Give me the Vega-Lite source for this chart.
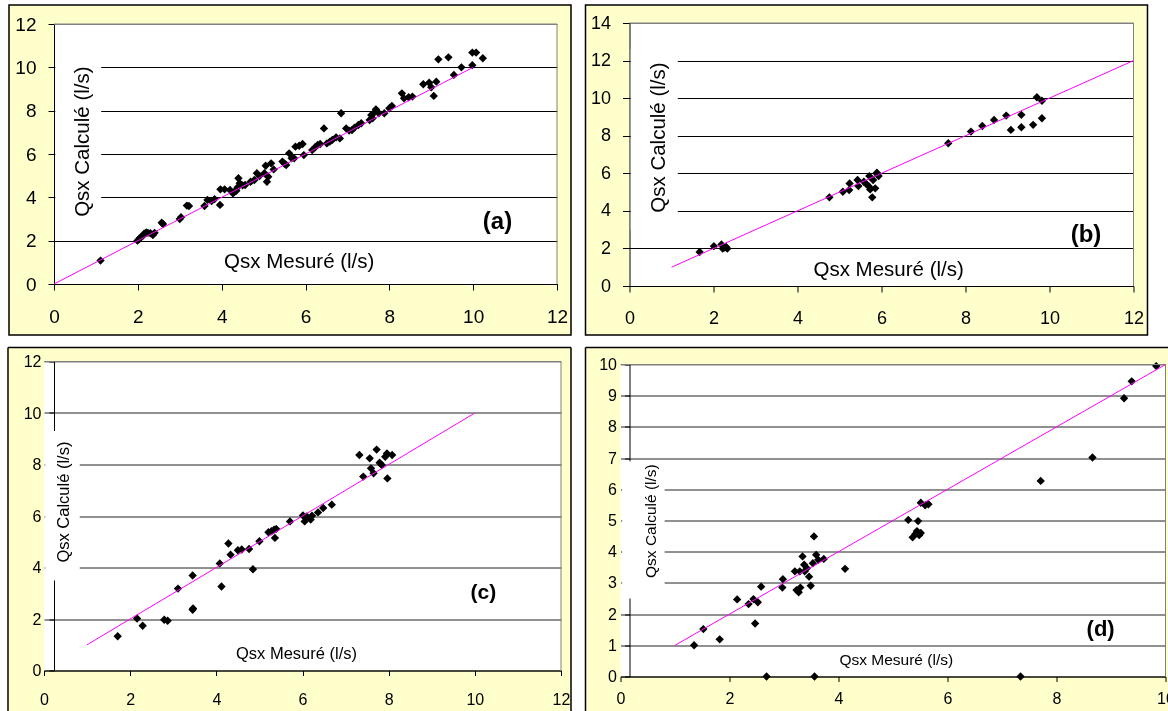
{
"$schema": "https://vega.github.io/schema/vega-lite/v6.json",
"background": "white",
"padding": {"left": 7, "top": 4, "right": 0, "bottom": 0},
"config": {
  "font": "Liberation Sans",
  "view": {"stroke": null},
  "axis": {"labelFont": "Liberation Sans", "labelColor": "black", "domainColor": "black", "tickColor": "black", "domainWidth": 1, "tickWidth": 1, "gridWidth": 1, "labelFlush": false, "labelOverlap": false, "labelBound": false, "tickCount": 20, "format": "d"}
},
"datasets": {
  "a": [
    {"mesure":1.11,"calcule":1.08},{"mesure":1.99,"calcule":2.0},{"mesure":2.03,"calcule":2.06},{"mesure":2.06,"calcule":2.15},{"mesure":2.12,"calcule":2.22},{"mesure":2.15,"calcule":2.32},{"mesure":2.2,"calcule":2.38},{"mesure":2.24,"calcule":2.36},{"mesure":2.3,"calcule":2.34},{"mesure":2.36,"calcule":2.26},{"mesure":2.4,"calcule":2.36},{"mesure":2.57,"calcule":2.83},{"mesure":2.6,"calcule":2.77},{"mesure":3.0,"calcule":3.0},{"mesure":3.03,"calcule":3.08},{"mesure":3.17,"calcule":3.62},{"mesure":3.22,"calcule":3.6},{"mesure":3.59,"calcule":3.6},{"mesure":3.66,"calcule":3.88},{"mesure":3.76,"calcule":3.83},{"mesure":3.83,"calcule":3.92},{"mesure":3.96,"calcule":3.65},{"mesure":3.97,"calcule":4.37},{"mesure":4.07,"calcule":4.37},{"mesure":4.2,"calcule":4.34},{"mesure":4.27,"calcule":4.18},{"mesure":4.3,"calcule":4.26},{"mesure":4.35,"calcule":4.3},{"mesure":4.38,"calcule":4.46},{"mesure":4.4,"calcule":4.88},{"mesure":4.43,"calcule":4.65},{"mesure":4.5,"calcule":4.55},{"mesure":4.56,"calcule":4.57},{"mesure":4.69,"calcule":4.72},{"mesure":4.78,"calcule":4.8},{"mesure":4.84,"calcule":5.11},{"mesure":4.9,"calcule":4.98},{"mesure":5.02,"calcule":5.11},{"mesure":5.05,"calcule":5.46},{"mesure":5.08,"calcule":4.72},{"mesure":5.11,"calcule":4.95},{"mesure":5.18,"calcule":5.57},{"mesure":5.24,"calcule":5.29},{"mesure":5.45,"calcule":5.65},{"mesure":5.5,"calcule":5.55},{"mesure":5.54,"calcule":5.49},{"mesure":5.61,"calcule":6.03},{"mesure":5.67,"calcule":5.8},{"mesure":5.73,"calcule":5.8},{"mesure":5.76,"calcule":6.34},{"mesure":5.85,"calcule":6.38},{"mesure":5.93,"calcule":6.46},{"mesure":5.96,"calcule":5.95},{"mesure":6.16,"calcule":6.18},{"mesure":6.23,"calcule":6.31},{"mesure":6.29,"calcule":6.42},{"mesure":6.35,"calcule":6.46},{"mesure":6.44,"calcule":7.18},{"mesure":6.51,"calcule":6.49},{"mesure":6.58,"calcule":6.57},{"mesure":6.64,"calcule":6.65},{"mesure":6.73,"calcule":6.77},{"mesure":6.82,"calcule":6.72},{"mesure":6.85,"calcule":7.88},{"mesure":6.97,"calcule":7.18},{"mesure":7.04,"calcule":7.08},{"mesure":7.11,"calcule":7.11},{"mesure":7.17,"calcule":7.22},{"mesure":7.26,"calcule":7.34},{"mesure":7.33,"calcule":7.42},{"mesure":7.53,"calcule":7.57},{"mesure":7.57,"calcule":7.8},{"mesure":7.6,"calcule":7.65},{"mesure":7.64,"calcule":7.91},{"mesure":7.68,"calcule":8.06},{"mesure":7.75,"calcule":7.88},{"mesure":7.88,"calcule":7.88},{"mesure":8.0,"calcule":8.11},{"mesure":8.06,"calcule":8.22},{"mesure":8.3,"calcule":8.8},{"mesure":8.35,"calcule":8.57},{"mesure":8.46,"calcule":8.62},{"mesure":8.55,"calcule":8.65},{"mesure":8.81,"calcule":9.22},{"mesure":8.95,"calcule":9.29},{"mesure":9.0,"calcule":9.08},{"mesure":9.06,"calcule":8.68},{"mesure":9.12,"calcule":9.34},{"mesure":9.17,"calcule":10.37},{"mesure":9.41,"calcule":10.46},{"mesure":9.54,"calcule":9.65},{"mesure":9.72,"calcule":10.0},{"mesure":9.98,"calcule":10.1},{"mesure":9.98,"calcule":10.68},{"mesure":10.07,"calcule":10.68},{"mesure":10.23,"calcule":10.42}
  ],
  "b": [
    {"mesure":1.67,"calcule":1.81},{"mesure":2.01,"calcule":2.12},{"mesure":2.19,"calcule":2.21},{"mesure":2.22,"calcule":1.99},{"mesure":2.3,"calcule":2.08},{"mesure":2.33,"calcule":1.99},{"mesure":2.27,"calcule":2.05},{"mesure":4.76,"calcule":4.72},{"mesure":5.08,"calcule":5.02},{"mesure":5.23,"calcule":5.11},{"mesure":5.24,"calcule":5.46},{"mesure":5.43,"calcule":5.64},{"mesure":5.45,"calcule":5.32},{"mesure":5.58,"calcule":5.55},{"mesure":5.64,"calcule":5.43},{"mesure":5.7,"calcule":5.3},{"mesure":5.71,"calcule":5.85},{"mesure":5.73,"calcule":5.14},{"mesure":5.78,"calcule":4.72},{"mesure":5.8,"calcule":5.64},{"mesure":5.85,"calcule":5.2},{"mesure":5.89,"calcule":6.03},{"mesure":5.93,"calcule":5.85},{"mesure":5.9,"calcule":5.95},{"mesure":7.59,"calcule":7.6},{"mesure":8.13,"calcule":8.22},{"mesure":8.4,"calcule":8.52},{"mesure":8.68,"calcule":8.84},{"mesure":8.97,"calcule":9.07},{"mesure":9.08,"calcule":8.31},{"mesure":9.33,"calcule":9.11},{"mesure":9.33,"calcule":8.45},{"mesure":9.61,"calcule":8.58},{"mesure":9.7,"calcule":10.05},{"mesure":9.82,"calcule":8.93},{"mesure":9.82,"calcule":9.86}
  ],
  "c": [
    {"mesure":1.71,"calcule":1.33},{"mesure":2.16,"calcule":2.02},{"mesure":2.29,"calcule":1.74},{"mesure":2.79,"calcule":1.97},{"mesure":2.87,"calcule":1.93},{"mesure":3.11,"calcule":3.18},{"mesure":3.45,"calcule":3.69},{"mesure":3.46,"calcule":2.41},{"mesure":3.45,"calcule":2.36},{"mesure":4.08,"calcule":4.16},{"mesure":4.12,"calcule":3.26},{"mesure":4.28,"calcule":4.93},{"mesure":4.33,"calcule":4.5},{"mesure":4.5,"calcule":4.67},{"mesure":4.59,"calcule":4.7},{"mesure":4.76,"calcule":4.72},{"mesure":4.85,"calcule":3.93},{"mesure":5.0,"calcule":5.02},{"mesure":5.21,"calcule":5.37},{"mesure":5.28,"calcule":5.41},{"mesure":5.34,"calcule":5.47},{"mesure":5.36,"calcule":5.15},{"mesure":5.39,"calcule":5.5},{"mesure":5.71,"calcule":5.79},{"mesure":6.01,"calcule":6.02},{"mesure":6.05,"calcule":5.79},{"mesure":6.1,"calcule":5.98},{"mesure":6.19,"calcule":5.86},{"mesure":6.22,"calcule":6.01},{"mesure":6.36,"calcule":6.14},{"mesure":6.48,"calcule":6.31},{"mesure":6.68,"calcule":6.44},{"mesure":7.32,"calcule":8.37},{"mesure":7.41,"calcule":7.53},{"mesure":7.56,"calcule":8.24},{"mesure":7.59,"calcule":7.85},{"mesure":7.65,"calcule":7.66},{"mesure":7.72,"calcule":8.58},{"mesure":7.79,"calcule":8.07},{"mesure":7.84,"calcule":7.98},{"mesure":7.92,"calcule":8.3},{"mesure":7.96,"calcule":8.43},{"mesure":7.97,"calcule":7.46},{"mesure":8.08,"calcule":8.37}
  ],
  "d": [
    {"mesure":1.35,"calcule":1.0},{"mesure":1.52,"calcule":1.52},{"mesure":1.82,"calcule":1.19},{"mesure":2.14,"calcule":2.47},{"mesure":2.35,"calcule":2.32},{"mesure":2.44,"calcule":2.48},{"mesure":2.47,"calcule":1.7},{"mesure":2.52,"calcule":2.38},{"mesure":2.58,"calcule":2.88},{"mesure":2.68,"calcule":0.0},{"mesure":2.98,"calcule":3.12},{"mesure":2.97,"calcule":2.85},{"mesure":3.2,"calcule":3.37},{"mesure":3.23,"calcule":2.77},{"mesure":3.27,"calcule":2.7},{"mesure":3.3,"calcule":2.85},{"mesure":3.29,"calcule":3.37},{"mesure":3.34,"calcule":3.85},{"mesure":3.37,"calcule":3.58},{"mesure":3.38,"calcule":3.37},{"mesure":3.42,"calcule":3.47},{"mesure":3.46,"calcule":3.2},{"mesure":3.49,"calcule":2.91},{"mesure":3.55,"calcule":4.49},{"mesure":3.56,"calcule":0.0},{"mesure":3.53,"calcule":3.63},{"mesure":3.59,"calcule":3.9},{"mesure":3.63,"calcule":3.74},{"mesure":3.73,"calcule":3.77},{"mesure":4.12,"calcule":3.45},{"mesure":5.28,"calcule":5.02},{"mesure":5.36,"calcule":4.46},{"mesure":5.41,"calcule":4.57},{"mesure":5.46,"calcule":4.98},{"mesure":5.44,"calcule":4.66},{"mesure":5.48,"calcule":4.53},{"mesure":5.51,"calcule":4.6},{"mesure":5.51,"calcule":5.57},{"mesure":5.59,"calcule":5.49},{"mesure":5.65,"calcule":5.52},{"mesure":7.34,"calcule":0.0},{"mesure":7.71,"calcule":6.27},{"mesure":8.66,"calcule":7.02},{"mesure":9.24,"calcule":8.92},{"mesure":9.38,"calcule":9.46},{"mesure":9.83,"calcule":9.95}
  ],
  "la": [{"mesure":0,"calcule":0},{"mesure":10,"calcule":10}],
  "lb": [{"mesure":1,"calcule":1},{"mesure":12,"calcule":12}],
  "lc": [{"mesure":1,"calcule":1},{"mesure":10,"calcule":10}],
  "ld": [{"mesure":1,"calcule":1},{"mesure":10,"calcule":10}],
  "one": [{"k":1}]
},
"columns": 2,
"spacing": {"row": 10.5, "column": 12.5},
"concat": [
  {"width": 503, "height": 260, "layer": [
    {"data": {"name": "a"}, "mark": {"type": "point", "shape": "diamond", "filled": true, "color": "black", "size": 70, "opacity": 1},
     "encoding": {
       "x": {"field": "mesure", "type": "quantitative", "scale": {"domain": [0, 12], "nice": false}, "axis": {"title": null, "values": [0,2,4,6,8,10,12], "tickCount": 20, "format": "d", "grid": false, "labelFontSize": 19, "tickSize": 6, "labelPadding": 17}},
       "y": {"field": "calcule", "type": "quantitative", "scale": {"domain": [0, 12], "nice": false}, "axis": {"title": null, "values": [0,2,4,6,8,10,12], "tickCount": 20, "format": "d", "grid": true, "gridColor": {"condition": {"test": "datum.value >= 12", "value": "#808080"}, "value": "black"}, "labelFontSize": 19, "tickSize": 6, "labelPadding": 12}}
     }},
    {"data": {"name": "one"}, "mark": {"type": "rect", "fill": "#FFFFCC", "blend": "multiply"}, "encoding": {"x": {"datum": -1.0736, "type": "quantitative"}, "x2": {"datum": 0}, "y": {"datum": -2.354, "type": "quantitative"}, "y2": {"datum": 12.877}}},
    {"data": {"name": "one"}, "mark": {"type": "rect", "fill": "#FFFFCC", "blend": "multiply"}, "encoding": {"x": {"datum": 12, "type": "quantitative"}, "x2": {"datum": 12.334}, "y": {"datum": -2.354, "type": "quantitative"}, "y2": {"datum": 12.877}}},
    {"data": {"name": "one"}, "mark": {"type": "rect", "fill": "#FFFFCC", "blend": "multiply"}, "encoding": {"x": {"datum": 0, "type": "quantitative"}, "x2": {"datum": 12}, "y": {"datum": 12, "type": "quantitative"}, "y2": {"datum": 12.877}}},
    {"data": {"name": "one"}, "mark": {"type": "rect", "fill": "#FFFFCC", "blend": "multiply"}, "encoding": {"x": {"datum": 0, "type": "quantitative"}, "x2": {"datum": 12}, "y": {"datum": -2.354, "type": "quantitative"}, "y2": {"datum": 0}}},
    {"data": {"name": "one"}, "mark": {"type": "rect", "filled": false, "stroke": "black", "strokeWidth": 1.5}, "encoding": {"x": {"datum": -1.0736, "type": "quantitative"}, "x2": {"datum": 12.334}, "y": {"datum": -2.354, "type": "quantitative"}, "y2": {"datum": 12.877}}},
    {"data": {"name": "one"}, "mark": {"type": "rule", "stroke": "#808080", "strokeWidth": 1}, "encoding": {"x": {"datum": 0, "type": "quantitative"}, "x2": {"datum": 12}, "y": {"datum": 12, "type": "quantitative"}}},
    {"data": {"name": "one"}, "mark": {"type": "rule", "stroke": "#808080", "strokeWidth": 1}, "encoding": {"x": {"datum": 12, "type": "quantitative"}, "y": {"datum": 0, "type": "quantitative"}, "y2": {"datum": 12}}},
    {"data": {"name": "one"}, "mark": {"type": "rect", "fill": "white"}, "encoding": {"x": {"datum": 0.03, "type": "quantitative"}, "x2": {"datum": 1.125}, "y": {"datum": 2.6, "type": "quantitative"}, "y2": {"datum": 10.4}}},
    {"data": {"name": "la"}, "mark": {"type": "line", "color": "#FF00FF", "strokeWidth": 1}, "encoding": {"x": {"field": "mesure", "type": "quantitative"}, "y": {"field": "calcule", "type": "quantitative"}}},
    {"data": {"name": "one"}, "mark": {"type": "text", "text": "Qsx Calculé (l/s)", "angle": 270, "fontSize": 20.5, "font": "Liberation Sans", "align": "center", "baseline": "middle", "color": "black"}, "encoding": {"x": {"datum": 0.68, "type": "quantitative"}, "y": {"datum": 6.57, "type": "quantitative"}}},
    {"data": {"name": "one"}, "mark": {"type": "text", "text": "Qsx Mesuré (l/s)", "fontSize": 20.5, "font": "Liberation Sans", "align": "center", "baseline": "middle", "color": "black"}, "encoding": {"x": {"datum": 5.85, "type": "quantitative"}, "y": {"datum": 1.03, "type": "quantitative"}}},
    {"data": {"name": "one"}, "mark": {"type": "text", "text": "(a)", "fontSize": 24, "fontWeight": "bold", "font": "Liberation Sans", "align": "center", "baseline": "middle", "color": "black"}, "encoding": {"x": {"datum": 10.58, "type": "quantitative"}, "y": {"datum": 2.88, "type": "quantitative"}}}
  ]},
  {"width": 504, "height": 262, "layer": [
    {"data": {"name": "b"}, "mark": {"type": "point", "shape": "diamond", "filled": true, "color": "black", "size": 70, "opacity": 1},
     "encoding": {
       "x": {"field": "mesure", "type": "quantitative", "scale": {"domain": [0, 12], "nice": false}, "axis": {"title": null, "values": [0,2,4,6,8,10,12], "tickCount": 20, "format": "d", "grid": false, "labelFontSize": 18, "tickSize": 6, "labelPadding": 17}},
       "y": {"field": "calcule", "type": "quantitative", "scale": {"domain": [0, 14], "nice": false, "range": [262, -1]}, "axis": {"title": null, "values": [0,2,4,6,8,10,12,14], "tickCount": 20, "format": "d", "grid": true, "gridColor": {"condition": {"test": "datum.value >= 14", "value": "#808080"}, "value": "black"}, "labelFontSize": 18, "tickSize": 7, "labelPadding": 12}}
     }},
    {"data": {"name": "one"}, "mark": {"type": "rect", "fill": "#FFFFCC", "blend": "multiply"}, "encoding": {"x": {"datum": -1.0476, "type": "quantitative"}, "x2": {"datum": 0}, "y": {"datum": -2.608, "type": "quantitative"}, "y2": {"datum": 14.958}}},
    {"data": {"name": "one"}, "mark": {"type": "rect", "fill": "#FFFFCC", "blend": "multiply"}, "encoding": {"x": {"datum": 12, "type": "quantitative"}, "x2": {"datum": 12.333}, "y": {"datum": -2.608, "type": "quantitative"}, "y2": {"datum": 14.958}}},
    {"data": {"name": "one"}, "mark": {"type": "rect", "fill": "#FFFFCC", "blend": "multiply"}, "encoding": {"x": {"datum": 0, "type": "quantitative"}, "x2": {"datum": 12}, "y": {"datum": 14, "type": "quantitative"}, "y2": {"datum": 14.958}}},
    {"data": {"name": "one"}, "mark": {"type": "rect", "fill": "#FFFFCC", "blend": "multiply"}, "encoding": {"x": {"datum": 0, "type": "quantitative"}, "x2": {"datum": 12}, "y": {"datum": -2.608, "type": "quantitative"}, "y2": {"datum": 0}}},
    {"data": {"name": "one"}, "mark": {"type": "rect", "filled": false, "stroke": "black", "strokeWidth": 1.5}, "encoding": {"x": {"datum": -1.0476, "type": "quantitative"}, "x2": {"datum": 12.333}, "y": {"datum": -2.608, "type": "quantitative"}, "y2": {"datum": 14.958}}},
    {"data": {"name": "one"}, "mark": {"type": "rule", "stroke": "#808080", "strokeWidth": 1}, "encoding": {"x": {"datum": 0, "type": "quantitative"}, "x2": {"datum": 12}, "y": {"datum": 14, "type": "quantitative"}}},
    {"data": {"name": "one"}, "mark": {"type": "rule", "stroke": "#808080", "strokeWidth": 1}, "encoding": {"x": {"datum": 12, "type": "quantitative"}, "y": {"datum": 0, "type": "quantitative"}, "y2": {"datum": 14}}},
    {"data": {"name": "one"}, "mark": {"type": "rect", "fill": "white"}, "encoding": {"x": {"datum": 0.03, "type": "quantitative"}, "x2": {"datum": 1.15}, "y": {"datum": 3.0, "type": "quantitative"}, "y2": {"datum": 12.6}}},
    {"data": {"name": "lb"}, "mark": {"type": "line", "color": "#FF00FF", "strokeWidth": 1}, "encoding": {"x": {"field": "mesure", "type": "quantitative"}, "y": {"field": "calcule", "type": "quantitative"}}},
    {"data": {"name": "one"}, "mark": {"type": "text", "text": "Qsx Calculé (l/s)", "angle": 270, "fontSize": 20.5, "font": "Liberation Sans", "align": "center", "baseline": "middle", "color": "black"}, "encoding": {"x": {"datum": 0.71, "type": "quantitative"}, "y": {"datum": 7.9, "type": "quantitative"}}},
    {"data": {"name": "one"}, "mark": {"type": "text", "text": "Qsx Mesuré (l/s)", "fontSize": 20.5, "font": "Liberation Sans", "align": "center", "baseline": "middle", "color": "black"}, "encoding": {"x": {"datum": 6.17, "type": "quantitative"}, "y": {"datum": 0.87, "type": "quantitative"}}},
    {"data": {"name": "one"}, "mark": {"type": "text", "text": "(b)", "fontSize": 24, "fontWeight": "bold", "font": "Liberation Sans", "align": "center", "baseline": "middle", "color": "black"}, "encoding": {"x": {"datum": 10.87, "type": "quantitative"}, "y": {"datum": 2.7, "type": "quantitative"}}}
  ]},
  {"width": 507, "height": 306, "layer": [
    {"data": {"name": "c"}, "mark": {"type": "point", "shape": "diamond", "filled": true, "color": "black", "size": 70, "opacity": 1},
     "encoding": {
       "x": {"field": "mesure", "type": "quantitative", "scale": {"domain": [0, 12], "nice": false, "range": [-10, 507]}, "axis": {"title": null, "values": [0,2,4,6,8,10,12], "tickCount": 20, "format": "d", "grid": false, "labelFontSize": 16, "tickSize": 5, "labelPadding": 16}},
       "y": {"field": "calcule", "type": "quantitative", "scale": {"domain": [0, 12], "nice": false, "range": [306, -3]}, "axis": {"title": null, "values": [0,2,4,6,8,10,12], "tickCount": 20, "format": "d", "grid": true, "gridColor": {"condition": {"test": "datum.value >= 12", "value": "#808080"}, "value": "#222222"}, "labelFontSize": 16, "tickSize": 5, "labelPadding": 8}}
     }},
    {"data": {"name": "one"}, "mark": {"type": "rect", "fill": "#FFFFCC", "blend": "multiply"}, "encoding": {"x": {"datum": -0.8356, "type": "quantitative"}, "x2": {"datum": 0}, "y": {"datum": -1.592, "type": "quantitative"}, "y2": {"datum": 12.544}}},
    {"data": {"name": "one"}, "mark": {"type": "rect", "fill": "#FFFFCC", "blend": "multiply"}, "encoding": {"x": {"datum": 12, "type": "quantitative"}, "x2": {"datum": 12.232}, "y": {"datum": -1.592, "type": "quantitative"}, "y2": {"datum": 12.544}}},
    {"data": {"name": "one"}, "mark": {"type": "rect", "fill": "#FFFFCC", "blend": "multiply"}, "encoding": {"x": {"datum": 0, "type": "quantitative"}, "x2": {"datum": 12}, "y": {"datum": 12, "type": "quantitative"}, "y2": {"datum": 12.544}}},
    {"data": {"name": "one"}, "mark": {"type": "rect", "fill": "#FFFFCC", "blend": "multiply"}, "encoding": {"x": {"datum": 0, "type": "quantitative"}, "x2": {"datum": 12}, "y": {"datum": -1.592, "type": "quantitative"}, "y2": {"datum": 0}}},
    {"data": {"name": "one"}, "mark": {"type": "rule", "stroke": "black", "strokeWidth": 1.5}, "encoding": {"x": {"datum": -0.8356, "type": "quantitative"}, "y": {"datum": -1.592, "type": "quantitative"}, "y2": {"datum": 12.544}}},
    {"data": {"name": "one"}, "mark": {"type": "rule", "stroke": "black", "strokeWidth": 1.5}, "encoding": {"x": {"datum": 12.232, "type": "quantitative"}, "y": {"datum": -1.592, "type": "quantitative"}, "y2": {"datum": 12.544}}},
    {"data": {"name": "one"}, "mark": {"type": "rule", "stroke": "black", "strokeWidth": 1.5}, "encoding": {"x": {"datum": -0.8356, "type": "quantitative"}, "x2": {"datum": 12.232}, "y": {"datum": 12.544, "type": "quantitative"}}},
    {"data": {"name": "one"}, "mark": {"type": "rule", "stroke": "#808080", "strokeWidth": 1}, "encoding": {"x": {"datum": 0, "type": "quantitative"}, "x2": {"datum": 12}, "y": {"datum": 12, "type": "quantitative"}}},
    {"data": {"name": "one"}, "mark": {"type": "rule", "stroke": "#808080", "strokeWidth": 1}, "encoding": {"x": {"datum": 12, "type": "quantitative"}, "y": {"datum": 0, "type": "quantitative"}, "y2": {"datum": 12}}},
    {"data": {"name": "one"}, "mark": {"type": "rect", "fill": "white"}, "encoding": {"x": {"datum": 0.03, "type": "quantitative"}, "x2": {"datum": 0.83}, "y": {"datum": 3.5, "type": "quantitative"}, "y2": {"datum": 9.3}}},
    {"data": {"name": "lc"}, "mark": {"type": "line", "color": "#FF00FF", "strokeWidth": 1}, "encoding": {"x": {"field": "mesure", "type": "quantitative"}, "y": {"field": "calcule", "type": "quantitative"}}},
    {"data": {"name": "one"}, "mark": {"type": "text", "text": "Qsx Calculé (l/s)", "angle": 270, "fontSize": 16.5, "font": "Liberation Sans", "align": "center", "baseline": "middle", "color": "black"}, "encoding": {"x": {"datum": 0.46, "type": "quantitative"}, "y": {"datum": 6.54, "type": "quantitative"}}},
    {"data": {"name": "one"}, "mark": {"type": "text", "text": "Qsx Mesuré (l/s)", "fontSize": 16.5, "font": "Liberation Sans", "align": "center", "baseline": "middle", "color": "black"}, "encoding": {"x": {"datum": 5.86, "type": "quantitative"}, "y": {"datum": 0.64, "type": "quantitative"}}},
    {"data": {"name": "one"}, "mark": {"type": "text", "text": "(c)", "fontSize": 21, "fontWeight": "bold", "font": "Liberation Sans", "align": "center", "baseline": "middle", "color": "black"}, "encoding": {"x": {"datum": 10.2, "type": "quantitative"}, "y": {"datum": 3.02, "type": "quantitative"}}}
  ]},
  {"width": 536, "height": 312, "layer": [
    {"data": {"name": "d"}, "mark": {"type": "point", "shape": "diamond", "filled": true, "color": "black", "size": 70, "opacity": 1},
     "encoding": {
       "x": {"field": "mesure", "type": "quantitative", "scale": {"domain": [0, 10], "nice": false, "range": [-9, 536]}, "axis": {"title": null, "values": [0,2,4,6,8,10], "tickCount": 20, "format": "d", "grid": false, "labelFontSize": 16, "tickSize": 5, "labelPadding": 9}},
       "y": {"field": "calcule", "type": "quantitative", "scale": {"domain": [0, 10], "nice": false}, "axis": {"title": null, "values": [0,1,2,3,4,5,6,7,8,9,10], "tickCount": 20, "format": "d", "grid": true, "gridColor": {"condition": {"test": "datum.value >= 10", "value": "#808080"}, "value": "#222222"}, "labelFontSize": 16, "tickSize": 5, "labelPadding": 8}}
     }},
    {"data": {"name": "one"}, "mark": {"type": "rect", "fill": "#FFFFCC", "blend": "multiply"}, "encoding": {"x": {"datum": -0.6422, "type": "quantitative"}, "x2": {"datum": 0}, "y": {"datum": -1.122, "type": "quantitative"}, "y2": {"datum": 10.545}}},
    {"data": {"name": "one"}, "mark": {"type": "rect", "fill": "#FFFFCC", "blend": "multiply"}, "encoding": {"x": {"datum": 10, "type": "quantitative"}, "x2": {"datum": 10.0917}, "y": {"datum": -1.122, "type": "quantitative"}, "y2": {"datum": 10.545}}},
    {"data": {"name": "one"}, "mark": {"type": "rect", "fill": "#FFFFCC", "blend": "multiply"}, "encoding": {"x": {"datum": 0, "type": "quantitative"}, "x2": {"datum": 10}, "y": {"datum": 10, "type": "quantitative"}, "y2": {"datum": 10.545}}},
    {"data": {"name": "one"}, "mark": {"type": "rect", "fill": "#FFFFCC", "blend": "multiply"}, "encoding": {"x": {"datum": 0, "type": "quantitative"}, "x2": {"datum": 10}, "y": {"datum": -1.122, "type": "quantitative"}, "y2": {"datum": 0}}},
    {"data": {"name": "one"}, "mark": {"type": "rule", "stroke": "black", "strokeWidth": 1.5}, "encoding": {"x": {"datum": -0.6422, "type": "quantitative"}, "y": {"datum": -1.122, "type": "quantitative"}, "y2": {"datum": 10.545}}},
    {"data": {"name": "one"}, "mark": {"type": "rule", "stroke": "black", "strokeWidth": 1.5}, "encoding": {"x": {"datum": -0.6422, "type": "quantitative"}, "x2": {"datum": 10.0917}, "y": {"datum": 10.545, "type": "quantitative"}}},
    {"data": {"name": "one"}, "mark": {"type": "rule", "stroke": "#808080", "strokeWidth": 1}, "encoding": {"x": {"datum": 0, "type": "quantitative"}, "x2": {"datum": 10}, "y": {"datum": 10, "type": "quantitative"}}},
    {"data": {"name": "one"}, "mark": {"type": "rule", "stroke": "#808080", "strokeWidth": 1}, "encoding": {"x": {"datum": 10, "type": "quantitative"}, "y": {"datum": 0, "type": "quantitative"}, "y2": {"datum": 10}}},
    {"data": {"name": "one"}, "mark": {"type": "rect", "fill": "white"}, "encoding": {"x": {"datum": 0.03, "type": "quantitative"}, "x2": {"datum": 0.81}, "y": {"datum": 2.5, "type": "quantitative"}, "y2": {"datum": 6.9}}},
    {"data": {"name": "ld"}, "mark": {"type": "line", "color": "#FF00FF", "strokeWidth": 1}, "encoding": {"x": {"field": "mesure", "type": "quantitative"}, "y": {"field": "calcule", "type": "quantitative"}}},
    {"data": {"name": "one"}, "mark": {"type": "text", "text": "Qsx Calculé (l/s)", "angle": 270, "fontSize": 15.5, "font": "Liberation Sans Narrow, Liberation Sans", "align": "center", "baseline": "middle", "color": "black"}, "encoding": {"x": {"datum": 0.56, "type": "quantitative"}, "y": {"datum": 4.98, "type": "quantitative"}}},
    {"data": {"name": "one"}, "mark": {"type": "text", "text": "Qsx Mesuré (l/s)", "fontSize": 15.5, "font": "Liberation Sans Narrow, Liberation Sans", "align": "center", "baseline": "middle", "color": "black"}, "encoding": {"x": {"datum": 5.06, "type": "quantitative"}, "y": {"datum": 0.54, "type": "quantitative"}}},
    {"data": {"name": "one"}, "mark": {"type": "text", "text": "(d)", "fontSize": 22, "fontWeight": "bold", "font": "Liberation Sans", "align": "center", "baseline": "middle", "color": "black"}, "encoding": {"x": {"datum": 8.81, "type": "quantitative"}, "y": {"datum": 1.52, "type": "quantitative"}}}
  ]}
]
}
